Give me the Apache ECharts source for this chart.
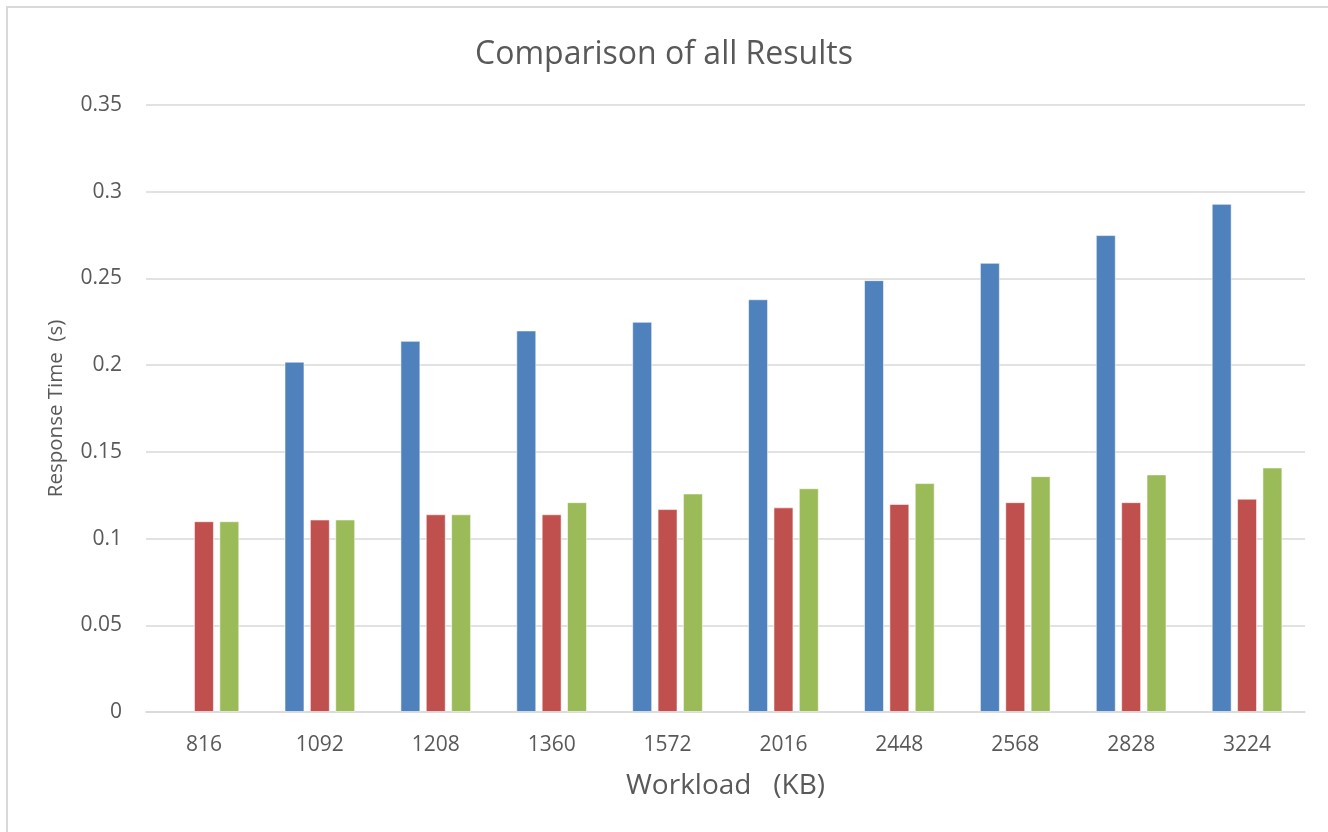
<!DOCTYPE html>
<html>
<head>
<meta charset="utf-8">
<script src="https://cdn.jsdelivr.net/npm/echarts@6/dist/echarts.min.js"></script>
<style>
  html, body { margin: 0; padding: 0; background: #fff; }
  #wrap { position: relative; width: 1328px; height: 832px; overflow: hidden; }
  #chart { position: absolute; left: 0; top: 0; width: 1328px; height: 832px; }
  #frame { position: absolute; left: 6px; top: 6px; width: 1340px; height: 840px;
           border-left: 2px solid #d9d9d9; border-top: 2px solid #d9d9d9; pointer-events: none; }
</style>
</head>
<body>
<div id="wrap"><div id="chart"></div><div id="frame"></div></div>
<script>
const categories = ['816', '1092', '1208', '1360', '1572', '2016', '2448', '2568', '2828', '3224'];
const seriesBlue  = [null, 0.202, 0.214, 0.220, 0.225, 0.238, 0.249, 0.259, 0.275, 0.293];
const seriesRed   = [0.110, 0.111, 0.114, 0.114, 0.117, 0.118, 0.120, 0.121, 0.121, 0.123];
const seriesGreen = [0.110, 0.111, 0.114, 0.121, 0.126, 0.129, 0.132, 0.136, 0.137, 0.141];
const titleText = 'Comparison of all Results';
const xAxisName = 'Workload   (KB)';
const yAxisName = 'Response Time  (s)';

const font = '"Open Sans", "Noto Sans", sans-serif';
const chart = echarts.init(document.getElementById('chart'), null, { renderer: 'canvas' });
const barStyle = (c) => ({ color: c, borderColor: 'rgba(255,255,255,0.55)', borderWidth: 1 });
chart.setOption({
  animation: false,
  backgroundColor: '#fff',
  title: {
    text: titleText, left: 'center', top: 34,
    textStyle: { fontFamily: font, fontSize: 32, fontWeight: 'normal', color: '#595959' }
  },
  grid: { left: 146, right: 23, top: 105, bottom: 120 },
  xAxis: {
    type: 'category', data: categories,
    name: xAxisName, nameLocation: 'middle', nameGap: 60,
    nameTextStyle: { fontFamily: font, fontSize: 28, color: '#595959' },
    axisLine: { lineStyle: { color: '#d9d9d9', width: 1.5 } },
    axisTick: { show: false },
    axisLabel: { fontFamily: font, fontSize: 21, color: '#595959', margin: 23 }
  },
  yAxis: {
    type: 'value', min: 0, max: 0.35, interval: 0.05,
    name: yAxisName, nameLocation: 'middle', nameGap: 79,
    nameTextStyle: { fontFamily: font, fontSize: 20.5, color: '#595959' },
    axisLine: { show: false }, axisTick: { show: false },
    axisLabel: { fontFamily: font, fontSize: 21, color: '#595959', margin: 24 },
    splitLine: { lineStyle: { color: '#d9d9d9', width: 1.5 } }
  },
  series: [
    { type: 'bar', data: seriesBlue, itemStyle: barStyle('#4f81bd'), barGap: '27%', barCategoryGap: '39%' },
    { type: 'bar', data: seriesRed, itemStyle: barStyle('#c0504d'), barGap: '27%', barCategoryGap: '39%' },
    { type: 'bar', data: seriesGreen, itemStyle: barStyle('#9bbb59'), barGap: '27%', barCategoryGap: '39%' }
  ]
});
</script>
</body>
</html>
